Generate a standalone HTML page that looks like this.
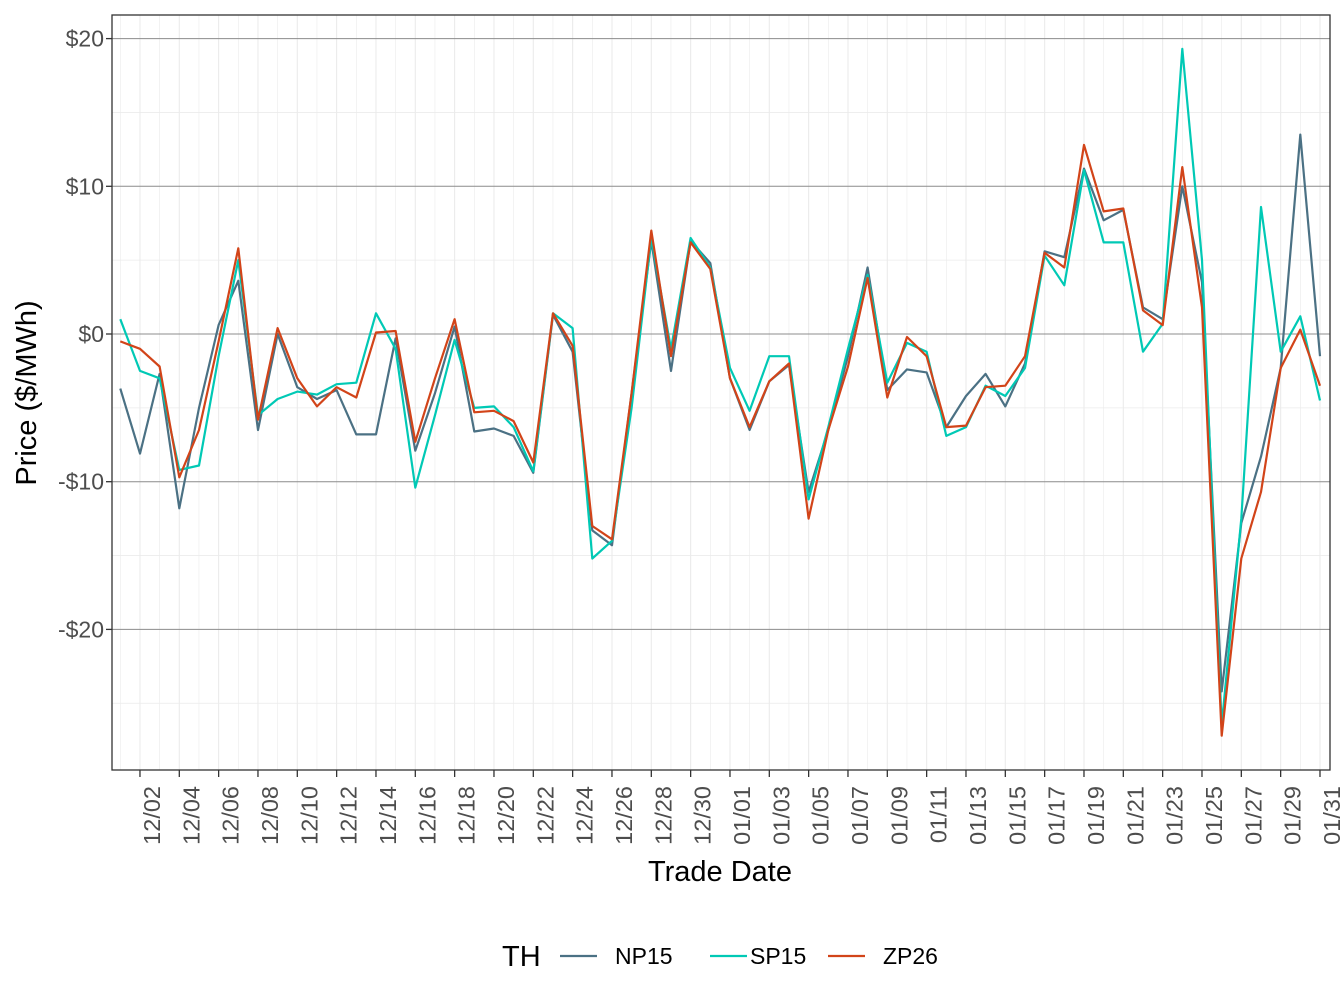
<!DOCTYPE html>
<html><head><meta charset="utf-8"><style>
html,body{margin:0;padding:0;background:#fff;}
svg{display:block;font-family:"Liberation Sans",sans-serif;}
</style></head><body>
<svg id="s" width="1344" height="1008" xmlns="http://www.w3.org/2000/svg"></svg>
<script>
const NP=[-3.7,-8.1,-2.7,-11.8,-5,0.6,3.6,-6.5,0,-3.6,-4.4,-3.8,-6.8,-6.8,-0.3,-7.9,-4,0.5,-6.6,-6.4,-6.9,-9.4,1.3,-1.2,-13.3,-14.3,-4,6.3,-2.5,6.3,4.8,-3,-6.5,-3.2,-2.1,-10.7,-6.5,-1.5,4.5,-3.8,-2.4,-2.6,-6.3,-4.2,-2.7,-4.9,-2,5.6,5.2,11.2,7.7,8.4,1.8,1.0,10.0,3.5,-24.2,-12.8,-8.3,-2.3,13.5,-1.5];
const SP=[1.0,-2.5,-3.0,-9.2,-8.9,-1.5,5.0,-5.5,-4.4,-3.9,-4.1,-3.4,-3.3,1.4,-1.0,-10.4,-5.5,-0.4,-5,-4.9,-6.3,-9.3,1.4,0.4,-15.2,-14.0,-5,6.5,-1,6.5,4.5,-2.3,-5.2,-1.5,-1.5,-11.2,-6.3,-1.0,4,-3.3,-0.6,-1.2,-6.9,-6.3,-3.5,-4.2,-2.3,5.3,3.3,11.1,6.2,6.2,-1.2,0.7,19.3,5,-26.5,-12.5,8.6,-1.2,1.2,-4.5];
const ZP=[-0.5,-1.0,-2.2,-9.7,-6.5,-0.5,5.8,-5.8,0.4,-3,-4.9,-3.6,-4.3,0.1,0.2,-7.3,-3,1.0,-5.3,-5.2,-5.9,-8.7,1.4,-0.8,-13.0,-13.9,-4,7.0,-1.5,6.2,4.4,-3,-6.3,-3.2,-2,-12.5,-6.5,-2.2,3.8,-4.3,-0.2,-1.5,-6.3,-6.2,-3.6,-3.5,-1.5,5.5,4.5,12.8,8.3,8.5,1.6,0.6,11.3,1.8,-27.2,-15.2,-10.7,-2.3,0.3,-3.5];
const L=112,R=1330,T=15,B=770;
const X=i=>120.3+19.667*i, Y=v=>334-14.77*v;
let h='';
for(const v of [25,15,5,-5,-15,-25]){const y=Y(v);if(y>T&&y<B)h+=`<line x1="${L}" x2="${R}" y1="${y}" y2="${y}" stroke="#ebebeb" stroke-width="0.8"/>`;}
for(let i=0;i<=61;i++){const x=X(i);h+=`<line x1="${x}" x2="${x}" y1="${T}" y2="${B}" stroke="#ebebeb" stroke-width="${i%2?1.1:0.6}"/>`;}
for(const v of [20,10,0,-10,-20]){const y=Y(v);h+=`<line x1="${L}" x2="${R}" y1="${y}" y2="${y}" stroke="#8c8c8c" stroke-width="1"/>`;}
const line=(d,c)=>`<polyline fill="none" stroke="${c}" stroke-width="2.2" stroke-linejoin="round" points="${d.map((v,i)=>X(i).toFixed(1)+','+Y(v).toFixed(1)).join(' ')}"/>`;
h+=line(NP,'#4b7184')+line(SP,'#00c9b5')+line(ZP,'#d24419');
h+=`<rect x="${L}" y="${T}" width="${R-L}" height="${B-T}" fill="none" stroke="#333" stroke-width="1.3"/>`;
const labs=['$20','$10','$0','-$10','-$20'];
[20,10,0,-10,-20].forEach((v,k)=>{const y=Y(v);h+=`<line x1="${L-6}" x2="${L}" y1="${y}" y2="${y}" stroke="#333" stroke-width="1.3"/><text x="${L-8}" y="${y+8}" text-anchor="end" font-size="23" fill="#4d4d4d">${labs[k]}</text>`;});
for(let i=1;i<=61;i+=2){const x=X(i);const m=i<=30?'12':'01';const d=i<=30?i+1:i-30;const t=m+'/'+String(d).padStart(2,'0');
h+=`<line x1="${x}" x2="${x}" y1="${B}" y2="${B+7}" stroke="#333" stroke-width="1.3"/><text transform="translate(${x+20},${B+16}) rotate(-90)" text-anchor="end" font-size="23.5" fill="#4d4d4d">${t}</text>`;}
h+=`<text x="720" y="881" text-anchor="middle" font-size="29" fill="#000">Trade Date</text>`;
h+=`<text transform="translate(36,393) rotate(-90)" text-anchor="middle" font-size="29" fill="#000">Price ($/MWh)</text>`;
h+=`<text x="502" y="966" font-size="29" fill="#000">TH</text>`;
[[560,615,'NP15','#4b7184'],[710,750,'SP15','#00c9b5'],[828,883,'ZP26','#d24419']].forEach(([x,tx,t,c])=>{h+=`<line x1="${x}" x2="${x+37}" y1="956" y2="956" stroke="${c}" stroke-width="2.2"/><text x="${tx}" y="964" font-size="23" fill="#000">${t}</text>`;});
document.getElementById('s').innerHTML=h;
</script>
</body></html>
